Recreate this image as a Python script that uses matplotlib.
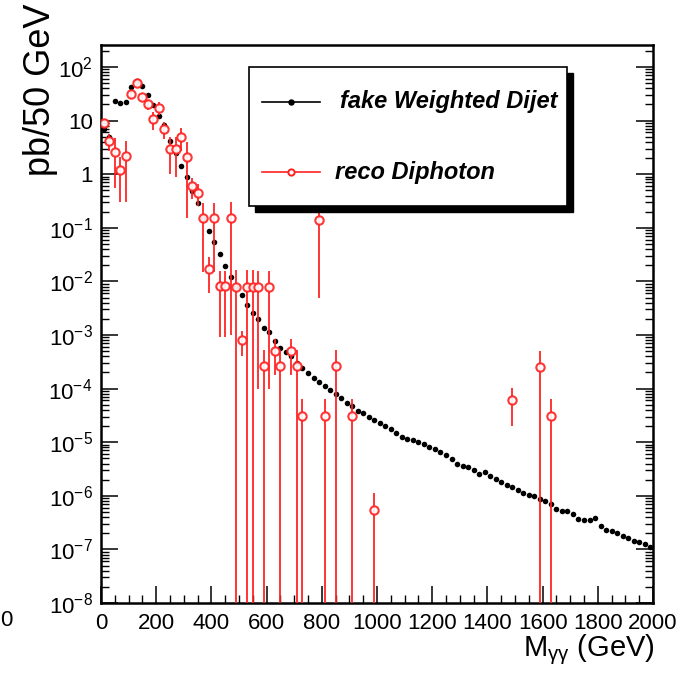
import numpy as np
import matplotlib
matplotlib.use("Agg")
import matplotlib.pyplot as plt
from matplotlib.patches import Rectangle
from matplotlib.lines import Line2D
from matplotlib.ticker import MultipleLocator, LogLocator, NullFormatter

plt.rcParams['font.family'] = ['Liberation Sans', 'DejaVu Sans']
plt.rcParams['mathtext.fontset'] = 'custom'
plt.rcParams['mathtext.rm'] = 'Liberation Sans'
plt.rcParams['mathtext.it'] = 'Liberation Sans:italic'
plt.rcParams['mathtext.bf'] = 'Liberation Sans:bold'

# --- data (pb / 50 GeV), 20 GeV wide bins from 0 to 2000 GeV ---
dijet_mass = np.arange(10, 2000, 20)
dijet_xsec = [
    7, 5, 23.5, 21, 22, 43, 54, 45, 30, 19.5,
    12, 8.3, 4.2, 2.5, 1.4, 0.87, 0.49, 0.29, 0.15, 0.087,
    0.054, 0.032, 0.0195, 0.0123, 0.0080, 0.0056, 0.0037, 0.0026, 0.0020, 1.33e-3,
    1.12e-3, 7.8e-4, 5.75e-4, 4.9e-4, 4.1e-4, 2.95e-4, 2.4e-4, 1.95e-4, 1.58e-4, 1.35e-4,
    1.12e-4, 9.3e-5, 7.8e-5, 6.6e-5, 5.5e-5, 4.8e-5, 3.8e-5, 3.5e-5, 3.0e-5, 2.6e-5,
    2.3e-5, 2.04e-5, 1.78e-5, 1.5e-5, 1.26e-5, 1.17e-5, 1.12e-5, 1.02e-5, 9.3e-6, 8.3e-6,
    7.4e-6, 6.6e-6, 5.75e-6, 4.9e-6, 3.9e-6, 3.6e-6, 3.4e-6, 3.0e-6, 2.6e-6, 2.8e-6,
    2.35e-6, 2.04e-6, 1.82e-6, 1.58e-6, 1.45e-6, 1.29e-6, 1.12e-6, 1.02e-6, 1.0e-6, 8.7e-7,
    7.9e-7, 6.9e-7, 5.75e-7, 5.1e-7, 5.25e-7, 4.6e-7, 3.7e-7, 3.5e-7, 3.55e-7, 3.8e-7,
    2.75e-7, 2.3e-7, 2.24e-7, 2.0e-7, 1.78e-7, 1.62e-7, 1.45e-7, 1.35e-7, 1.26e-7, 1.1e-7,
]

diphoton_mass = [10, 30, 50, 70, 90, 110, 130, 150, 170, 190,
                 210, 230, 250, 270, 290, 310, 330, 350, 370, 390,
                 410, 430, 450, 470, 490, 510, 530, 550, 570, 590,
                 610, 630, 650, 690, 710, 730, 790, 810, 850, 910,
                 990, 1490, 1590, 1630]
diphoton_xsec = [8.9, 4.2, 2.6, 1.2, 2.2, 31, 51, 28, 20, 10.6,
                 17.5, 7.0, 3.0, 2.9, 5.0, 2.1, 0.6, 0.45, 0.15, 0.017,
                 0.15, 0.0083, 0.0083, 0.15, 0.0078, 0.0008, 0.0078, 0.0078, 0.0078, 2.6e-4,
                 0.0078, 5.1e-4, 2.6e-4, 5.1e-4, 2.6e-4, 3.1e-5, 0.14, 3.1e-5, 2.6e-4, 3.1e-5,
                 5.4e-7, 6.2e-5, 2.5e-4, 3.1e-5]
diphoton_err = [1.5, 1.5, 2.05, 0.9, 1.9, 6, 7, 5, 4, 4,
                5, 2.5, 2.0, 2.0, 2.3, 1.95, 0.25, 0.2, 0.135, 0.011,
                0.135, 0.0074, 0.0074, 0.149, 0.0085, 0.0004, 0.0085, 0.0085, 0.0077, 2.7e-4,
                0.0077, 3.3e-4, 2.7e-4, 3.3e-4, 2.7e-4, 3.2e-5, 0.135, 3.2e-5, 2.7e-4, 3.2e-5,
                5.9e-7, 4.2e-5, 2.6e-4, 3.2e-5]

y_ticks = [1e-8, 1e-7, 1e-6, 1e-5, 1e-4, 1e-3, 1e-2, 1e-1, 1, 10, 100]
y_tick_labels = ['$10^{-8}$', '$10^{-7}$', '$10^{-6}$', '$10^{-5}$', '$10^{-4}$',
                 '$10^{-3}$', '$10^{-2}$', '$10^{-1}$', '1', '10', '$10^{2}$']

red = '#ff2020'

fig = plt.figure(figsize=(6.85, 6.76), dpi=100)
ax = fig.add_axes([101 / 685, 73 / 676, 552 / 685, 558 / 676])

# black dijet markers
ax.plot(dijet_mass, dijet_xsec, 'o', color='black', markersize=4.0,
        markeredgewidth=0, zorder=3)

# red diphoton points, error bars clipped at the bottom of the log axis
vals = np.array(diphoton_xsec)
errs = np.array(diphoton_err)
lower = np.minimum(errs, vals - 1e-12)
ax.errorbar(diphoton_mass, vals, yerr=[lower, errs], fmt='o', color=red,
            ecolor=red, elinewidth=1.4, markersize=6, markeredgewidth=1.5,
            markerfacecolor='white', markeredgecolor=red, capsize=0,
            alpha=0.9, zorder=4)

ax.set_yscale('log')
ax.set_xlim(0, 2000)
ax.set_ylim(1e-8, 257)

ax.xaxis.set_major_locator(MultipleLocator(200))
ax.xaxis.set_minor_locator(MultipleLocator(50))
ax.set_yticks(y_ticks)
ax.set_yticklabels(y_tick_labels)
ax.yaxis.set_minor_locator(LogLocator(base=10, subs=np.arange(2, 10), numticks=20))
ax.yaxis.set_minor_formatter(NullFormatter())

ax.tick_params(which='both', direction='in', left=True, right=True,
               top=False, bottom=True, labelsize=16)
ax.tick_params(which='major', length=12, width=1.1)
ax.tick_params(which='minor', length=6, width=1.0)
ax.tick_params(axis='y', pad=6)
ax.tick_params(axis='x', pad=7)
for sp in ax.spines.values():
    sp.set_linewidth(1.8)

# axis titles
fig.text(41 / 685, 1 - 3 / 676, 'pb/50 GeV', rotation=90, ha='center',
         va='top', fontsize=26)
fig.text(655 / 685, 1 - 650 / 676, r'M$_{\mathrm{\gamma\gamma}}$ (GeV)',
         ha='right', va='center', fontsize=21)
# stray label cut off from the neighbouring panel
fig.text(0.0, 1 - 620 / 676, '0', ha='left', va='center', fontsize=16)

# ROOT style legend box with shadow
bx0, bx1, by0, by1 = 0.268, 0.844, 0.711, 0.961
sh = 0.011
ax.add_patch(Rectangle((bx0 + sh, by0 - sh), bx1 - bx0, by1 - by0,
                       transform=ax.transAxes, facecolor='black',
                       edgecolor='black', clip_on=False, zorder=10))
ax.add_patch(Rectangle((bx0, by0), bx1 - bx0, by1 - by0,
                       transform=ax.transAxes, facecolor='white',
                       edgecolor='black', linewidth=1.2, clip_on=False,
                       zorder=11))
ax.add_line(Line2D([0.292, 0.397], [0.898, 0.898], transform=ax.transAxes,
                   color='black', linewidth=1.2, clip_on=False, zorder=12))
ax.add_line(Line2D([0.344], [0.898], transform=ax.transAxes, marker='o',
                   color='black', markersize=3.6, clip_on=False, zorder=12))
ax.add_line(Line2D([0.292, 0.397], [0.772, 0.772], transform=ax.transAxes,
                   color=red, linewidth=1.2, clip_on=False, zorder=12))
ax.add_line(Line2D([0.344], [0.772], transform=ax.transAxes, marker='o',
                   color=red, markerfacecolor='white', markersize=4.5,
                   markeredgewidth=1.4, clip_on=False, zorder=12))
ax.text(0.433, 0.898, 'fake Weighted Dijet', transform=ax.transAxes,
        fontsize=17, style='italic', weight='bold', ha='left', va='center',
        zorder=13)
ax.text(0.424, 0.772, 'reco Diphoton', transform=ax.transAxes,
        fontsize=17, style='italic', weight='bold', ha='left', va='center',
        zorder=13)

fig.savefig('out.png', dpi=100)
